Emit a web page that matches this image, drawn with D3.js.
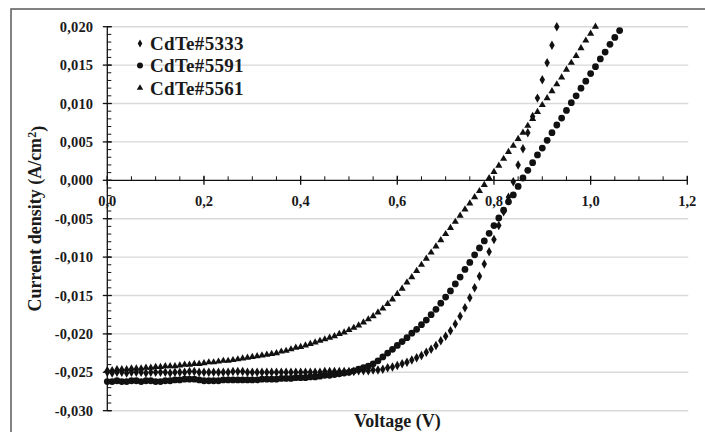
<!DOCTYPE html>
<html>
<head>
<meta charset="utf-8">
<script src="https://cdn.jsdelivr.net/npm/d3@7"></script>
<style>
    html, body { margin: 0; padding: 0; background: #fff; }
    svg text { font-family: "Liberation Serif", "Times New Roman", serif; font-weight: bold; fill: #1a1a1a; }
</style>
</head>
<body>
<div id="chartContainer"></div>
<script>
// J-V curves of three CdTe cells (V in volts, J in A/cm2).
const voltage = [
    0.00, 0.01, 0.02, 0.03, 0.04, 0.05, 0.06, 0.07, 0.08, 0.09,
    0.10, 0.11, 0.12, 0.13, 0.14, 0.15, 0.16, 0.17, 0.18, 0.19,
    0.20, 0.21, 0.22, 0.23, 0.24, 0.25, 0.26, 0.27, 0.28, 0.29,
    0.30, 0.31, 0.32, 0.33, 0.34, 0.35, 0.36, 0.37, 0.38, 0.39,
    0.40, 0.41, 0.42, 0.43, 0.44, 0.45, 0.46, 0.47, 0.48, 0.49,
    0.50, 0.51, 0.52, 0.53, 0.54, 0.55, 0.56, 0.57, 0.58, 0.59,
    0.60, 0.61, 0.62, 0.63, 0.64, 0.65, 0.66, 0.67, 0.68, 0.69,
    0.70, 0.71, 0.72, 0.73, 0.74, 0.75, 0.76, 0.77, 0.78, 0.79,
    0.80, 0.81, 0.82, 0.83, 0.84, 0.85, 0.86, 0.87, 0.88, 0.89,
    0.90, 0.91, 0.92, 0.93, 0.94, 0.95, 0.96, 0.97, 0.98, 0.99,
    1.00, 1.01, 1.02, 1.03, 1.04, 1.05, 1.06
];

// CdTe#5333 (diamonds), 0.00 .. 0.93 V
const cdte5333 = [
    -0.0250, -0.0251, -0.0250, -0.0250, -0.0251, -0.0250, -0.0250, -0.0250, -0.0251, -0.0250,
    -0.0250, -0.0250, -0.0250, -0.0251, -0.0250, -0.0250, -0.0250, -0.0249, -0.0249, -0.0250,
    -0.0250, -0.0250, -0.0250, -0.0250, -0.0250, -0.0250, -0.0249, -0.0249, -0.0249, -0.0250,
    -0.0250, -0.0250, -0.0250, -0.0250, -0.0250, -0.0250, -0.0250, -0.0250, -0.0250, -0.0250,
    -0.0250, -0.0250, -0.0250, -0.0250, -0.0250, -0.0249, -0.0249, -0.0249, -0.0249, -0.0249,
    -0.0249, -0.0249, -0.0248, -0.0248, -0.0248, -0.0247, -0.0247, -0.0246, -0.0244, -0.0243,
    -0.0241, -0.0239, -0.0237, -0.0234, -0.0231, -0.0228, -0.0224, -0.0220, -0.0215, -0.0209,
    -0.0203, -0.0196, -0.0187, -0.0177, -0.0166, -0.0153, -0.0140, -0.0125, -0.0109, -0.0093,
    -0.0077, -0.0059, -0.0041, -0.0022, -0.0002, 0.0020, 0.0041, 0.0062, 0.0083, 0.0107,
    0.0131, 0.0153, 0.0176, 0.0200
];

// CdTe#5591 (circles), 0.00 .. 1.06 V
const cdte5591 = [
    -0.0262, -0.0262, -0.0261, -0.0262, -0.0262, -0.0261, -0.0261, -0.0262, -0.0261, -0.0261,
    -0.0262, -0.0262, -0.0261, -0.0261, -0.0260, -0.0260, -0.0259, -0.0259, -0.0259, -0.0260,
    -0.0261, -0.0261, -0.0261, -0.0261, -0.0260, -0.0260, -0.0260, -0.0260, -0.0260, -0.0260,
    -0.0260, -0.0260, -0.0259, -0.0259, -0.0259, -0.0259, -0.0258, -0.0258, -0.0258, -0.0257,
    -0.0257, -0.0257, -0.0256, -0.0256, -0.0255, -0.0254, -0.0254, -0.0253, -0.0252, -0.0251,
    -0.0250, -0.0248, -0.0246, -0.0244, -0.0242, -0.0239, -0.0235, -0.0230, -0.0225, -0.0220,
    -0.0215, -0.0210, -0.0205, -0.0199, -0.0194, -0.0188, -0.0182, -0.0175, -0.0168, -0.0160,
    -0.0152, -0.0144, -0.0135, -0.0126, -0.0116, -0.0107, -0.0097, -0.0088, -0.0079, -0.0069,
    -0.0059, -0.0049, -0.0039, -0.0028, -0.0019, -0.0008, 0.0003, 0.0013, 0.0023, 0.0033,
    0.0042, 0.0052, 0.0062, 0.0072, 0.0081, 0.0091, 0.0101, 0.0110, 0.0120, 0.0129,
    0.0139, 0.0148, 0.0158, 0.0167, 0.0177, 0.0186, 0.0195
];

// CdTe#5561 (triangles), 0.00 .. 1.01 V
const cdte5561 = [
    -0.0247, -0.0247, -0.0246, -0.0246, -0.0246, -0.0245, -0.0245, -0.0245, -0.0244, -0.0244,
    -0.0243, -0.0243, -0.0242, -0.0242, -0.0242, -0.0241, -0.0240, -0.0240, -0.0239, -0.0239,
    -0.0238, -0.0237, -0.0237, -0.0236, -0.0235, -0.0235, -0.0234, -0.0233, -0.0232, -0.0231,
    -0.0230, -0.0229, -0.0228, -0.0227, -0.0226, -0.0225, -0.0223, -0.0222, -0.0220, -0.0218,
    -0.0217, -0.0215, -0.0213, -0.0211, -0.0209, -0.0207, -0.0205, -0.0203, -0.0200, -0.0198,
    -0.0195, -0.0192, -0.0189, -0.0185, -0.0181, -0.0177, -0.0172, -0.0167, -0.0161, -0.0155,
    -0.0148, -0.0141, -0.0133, -0.0126, -0.0118, -0.0110, -0.0102, -0.0094, -0.0086, -0.0078,
    -0.0070, -0.0062, -0.0054, -0.0046, -0.0038, -0.0030, -0.0022, -0.0014, -0.0006, 0.0003,
    0.0011, 0.0019, 0.0028, 0.0037, 0.0045, 0.0054, 0.0062, 0.0071, 0.0080, 0.0089,
    0.0098, 0.0107, 0.0116, 0.0125, 0.0134, 0.0144, 0.0153, 0.0162, 0.0172, 0.0182,
    0.0191, 0.0200
];

const seriesNames = ["CdTe#5333", "CdTe#5591", "CdTe#5561"];
const xTicks = [0, 0.2, 0.4, 0.6, 0.8, 1.0, 1.2];
const yTicks = [0.020, 0.015, 0.010, 0.005, 0.000, -0.005, -0.010, -0.015, -0.020, -0.025, -0.030];

const W = 705, H = 432;
const plot = { left: 107.3, right: 687.3, top: 26.7, bottom: 410.7 };

const svg = d3.select("#chartContainer")
    .append("svg")
    .attr("width", W)
    .attr("height", H);

// Outer frame (only top and left edges are inside the picture).
svg.append("rect")
    .attr("x", 11).attr("y", 9)
    .attr("width", W + 20).attr("height", H + 20)
    .attr("fill", "none")
    .attr("stroke", "#5a5a5a")
    .attr("stroke-width", 1.5);

const x = d3.scaleLinear().domain([0, 1.2]).range([plot.left, plot.right]);
const y = d3.scaleLinear().domain([-0.03, 0.02]).range([plot.bottom, plot.top]);

// Horizontal grid lines.
svg.append("g")
    .selectAll("line")
    .data(yTicks.filter(d => d !== 0))
    .enter()
    .append("line")
    .attr("x1", plot.left).attr("x2", plot.right + 1)
    .attr("y1", d => y(d)).attr("y2", d => y(d))
    .attr("stroke", "#d9d9d9")
    .attr("stroke-width", 1.4);

const fmt = d => d3.format(".3f")(d).replace(".", ",").replace("−", "-");
const fmtX = d => d3.format(".1f")(d).replace(".", ",");

// Y axis: line, major ticks crossing, minor ticks inside.
const yAxisG = svg.append("g").attr("transform", `translate(${x(0)},0)`);
yAxisG.append("line")
    .attr("y1", y(0.02)).attr("y2", y(-0.03))
    .attr("stroke", "#111").attr("stroke-width", 1.3);
yAxisG.selectAll(".minor")
    .data(d3.range(-30, 21).map(d => d / 1000))
    .enter().append("line")
    .attr("x1", 0).attr("x2", 4)
    .attr("y1", d => y(d)).attr("y2", d => y(d))
    .attr("stroke", "#111").attr("stroke-width", 1);
yAxisG.selectAll(".major")
    .data(yTicks)
    .enter().append("line")
    .attr("x1", -4.5).attr("x2", 4.5)
    .attr("y1", d => y(d)).attr("y2", d => y(d))
    .attr("stroke", "#111").attr("stroke-width", 1.3);
yAxisG.selectAll("text")
    .data(yTicks)
    .enter().append("text")
    .attr("x", -14)
    .attr("y", d => y(d))
    .attr("dy", "0.35em")
    .attr("text-anchor", "end")
    .style("font-size", "14.5px")
    .style("letter-spacing", "0.2px")
    .text(fmt);

// X axis through zero.
const xAxisG = svg.append("g").attr("transform", `translate(0,${y(0)})`);
xAxisG.append("line")
    .attr("x1", x(0)).attr("x2", x(1.2))
    .attr("stroke", "#111").attr("stroke-width", 1.3);
xAxisG.selectAll(".minor")
    .data(d3.range(0, 25).map(d => d * 0.05))
    .enter().append("line")
    .attr("x1", d => x(d)).attr("x2", d => x(d))
    .attr("y1", -4).attr("y2", 0)
    .attr("stroke", "#111").attr("stroke-width", 1);
xAxisG.selectAll(".major")
    .data(xTicks)
    .enter().append("line")
    .attr("x1", d => x(d)).attr("x2", d => x(d))
    .attr("y1", -4.5).attr("y2", 4.5)
    .attr("stroke", "#111").attr("stroke-width", 1.3);
xAxisG.selectAll("text")
    .data(xTicks)
    .enter().append("text")
    .attr("x", d => x(d))
    .attr("y", 26)
    .attr("text-anchor", "middle")
    .style("font-size", "14.5px")
    .text(fmtX);

// Axis titles.
svg.append("text")
    .attr("x", (plot.left + plot.right) / 2)
    .attr("y", 427)
    .attr("text-anchor", "middle")
    .style("font-size", "18px")
    .text("Voltage (V)");

const yTitle = svg.append("text")
    .attr("transform", `translate(41,${(plot.top + plot.bottom) / 2}) rotate(-90)`)
    .attr("text-anchor", "middle")
    .style("font-size", "18px");
yTitle.append("tspan").text("Current density (A/cm");
yTitle.append("tspan").attr("dy", "-0.45em").style("font-size", "12px").text("2");
yTitle.append("tspan").attr("dy", "0.45em").text(")");

// Markers.
const symbols = [
    d3.symbol().type(d3.symbolDiamond).size(26),
    d3.symbol().type(d3.symbolCircle).size(36),
    d3.symbol().type(d3.symbolTriangle).size(22)
];
const legendSymbols = [
    d3.symbol().type(d3.symbolDiamond).size(18),
    d3.symbol().type(d3.symbolCircle).size(28),
    d3.symbol().type(d3.symbolTriangle).size(18)
];
const seriesData = [cdte5333, cdte5591, cdte5561];

seriesData.forEach((vals, i) => {
    svg.append("g")
        .selectAll("path")
        .data(vals.map((j, k) => ({ v: voltage[k], j: j })))
        .enter()
        .append("path")
        .attr("d", symbols[i])
        .attr("transform", d => `translate(${x(d.v)},${y(d.j)})`)
        .attr("fill", "#111");
});

// Legend.
const legend = svg.append("g");
const legendY = [43.5, 65.5, 88];
seriesNames.forEach((name, i) => {
    legend.append("path")
        .attr("d", legendSymbols[i])
        .attr("transform", `translate(140,${legendY[i]})`)
        .attr("fill", "#111");
    legend.append("text")
        .attr("x", 150)
        .attr("y", legendY[i])
        .attr("dy", "0.35em")
        .style("font-size", "19px")
        .style("letter-spacing", "0.3px")
        .text(name);
});
</script>
</body>
</html>
